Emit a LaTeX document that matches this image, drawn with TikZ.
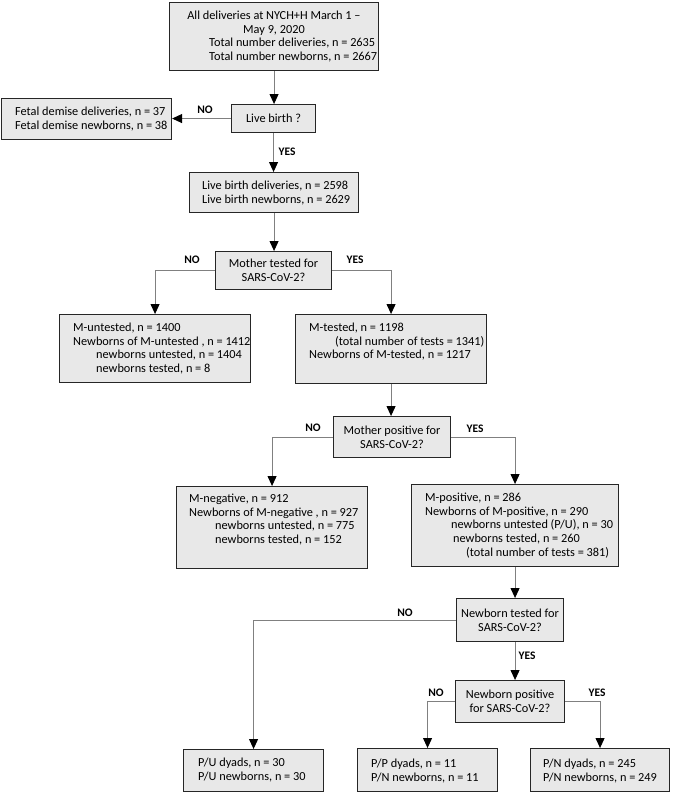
\documentclass[tikz,border=0pt]{standalone}
\usepackage{fontspec}
\setmainfont{Carlito}
\usetikzlibrary{arrows.meta}
\newcommand\mkbox[6]{\node[box, minimum width={(#4-#2)*1pt}, minimum height={(#5-#3)*1pt}] (#1) at (#2,#3) {#6};}
\newcommand\mktxt[4]{\node[txt] (#1) at (#2,#3) {#4};}
\begin{document}
\begin{tikzpicture}[x=1pt,y=-1pt,
  box/.style={draw=black!85, fill=black!9, line width=1.1pt, inner sep=0pt, anchor=north west,
    align=center, font=\fontsize{12.3}{13.8}\selectfont},
  txt/.style={anchor=north west, inner sep=0pt, align=left, font=\fontsize{12.3}{13.6}\selectfont},
  conn/.style={draw=black!50, line width=0.9pt, -{Triangle[width=9pt,length=10pt,color=black,fill=black]}},
  lbl/.style={inner sep=0pt, font=\fontsize{11.5}{12}\selectfont\bfseries}]
\useasboundingbox (0,0) rectangle (672,792);

% boxes
\mkbox{top}{169}{2}{378}{70}{}
\node[txt, anchor=north, align=center] (topA) at (274,10) {\strut All deliveries at NYCH+H March 1 –\\\strut May 9, 2020};
\mktxt{topB}{209}{37}{\strut Total number deliveries, n = 2635\\\strut Total number newborns, n = 2667}

\mkbox{fetal}{1}{98}{171}{139}{}
\mktxt{fetalT}{15}{106}{\strut Fetal demise deliveries, n = 37\\\strut Fetal demise newborns, n = 38}

\mkbox{live}{231}{104}{315}{132}{Live birth ?}

\mkbox{lbd}{189}{172}{358}{212}{}
\mktxt{lbdT}{202}{180}{\strut Live birth deliveries, n = 2598\\\strut Live birth newborns, n = 2629}

\mkbox{mt}{215}{251}{331}{289}{Mother tested for\\SARS-CoV-2?}

\mkbox{mu}{59}{314}{250}{382}{}
\mktxt{muT}{73}{322}{\strut M-untested, n = 1400\\\strut Newborns of M-untested , n = 1412\\\strut\hspace*{23pt}newborns untested, n = 1404\\\strut\hspace*{23pt}newborns tested, n = 8}

\mkbox{mtd}{295}{314}{486}{383}{}
\mktxt{mtdT}{309}{322}{\strut M-tested, n = 1198\\\strut\hspace*{26pt}(total number of tests = 1341)\\\strut Newborns of M-tested, n = 1217}

\mkbox{mp}{333}{416}{450}{457}{Mother positive for\\SARS-CoV-2?}

\mkbox{mn}{176}{486}{367}{568}{}
\mktxt{mnT}{189}{493}{\strut M-negative, n = 912\\\strut Newborns of M-negative , n = 927\\\strut\hspace*{26pt}newborns untested, n = 775\\\strut\hspace*{26pt}newborns tested, n = 152}

\mkbox{mpos}{411}{484}{618}{566}{}
\mktxt{mposT}{425}{492}{\strut M-positive, n = 286\\\strut Newborns of M-positive, n = 290\\\strut\hspace*{26pt}newborns untested (P/U), n = 30\\\strut\hspace*{28pt}newborns tested, n = 260\\\strut\hspace*{41pt}(total number of tests = 381)}

\mkbox{nbt}{456}{598}{563}{641}{Newborn tested for\\SARS-CoV-2?}
\mkbox{nbp}{455}{680}{564}{722}{Newborn positive\\for SARS-CoV-2?}

\mkbox{pu}{183}{749}{323}{791}{}
\mktxt{puT}{198}{757}{\strut P/U dyads, n = 30\\\strut P/U newborns, n = 30}
\mkbox{pp}{357}{748}{497}{791}{}
\mktxt{ppT}{371}{758}{\strut P/P dyads, n = 11\\\strut P/N newborns, n = 11}
\mkbox{pn}{530}{748}{669}{791}{}
\mktxt{pnT}{543}{758}{\strut P/N dyads, n = 245\\\strut P/N newborns, n = 249}

% connectors
\draw[conn] (top.south) -- (top.south |- live.north);
\draw[conn] (live.west) -- (fetal.east |- live.west);
\draw[conn] (live.south) -- (live.south |- lbd.north);
\draw[conn] (lbd.south) -- (lbd.south |- mt.north);
\draw[conn] (mt.west) -| (mu.north);
\draw[conn] (mt.east) -| (mtd.north);
\draw[conn] (mtd.south) -- (mtd.south |- mp.north);
\draw[conn] (mp.west) -| (mn.north);
\draw[conn] (mp.east) -| (mpos.north);
\draw[conn] (mpos.south) -- (mpos.south |- nbt.north);
\draw[conn] (nbt.west) -| (pu.north);
\draw[conn] (mpos.south |- nbt.south) -- (mpos.south |- nbp.north);
\draw[conn] (nbp.west) -| (pp.north);
\draw[conn] (nbp.east) -| (pn.north);

% labels
\node[lbl] (l1) at (205,110) {NO};
\node[lbl] (l2) at (287,152) {YES};
\node[lbl] (l3) at (192,260) {NO};
\node[lbl] (l4) at (355,260) {YES};
\node[lbl] (l5) at (313,428) {NO};
\node[lbl] (l6) at (475,429) {YES};
\node[lbl] (l7) at (405,613) {NO};
\node[lbl] (l8) at (527,656) {YES};
\node[lbl] (l9) at (436,693) {NO};
\node[lbl] (l10) at (597,693) {YES};
\end{tikzpicture}
\end{document}
